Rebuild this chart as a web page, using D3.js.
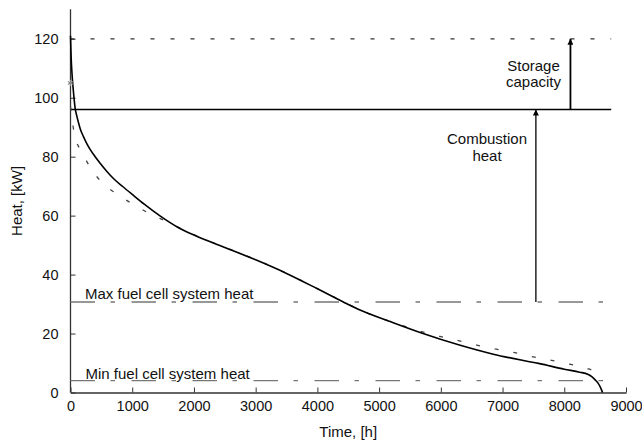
<!DOCTYPE html>
<html>
<head>
<meta charset="utf-8">
<script src="https://cdn.jsdelivr.net/npm/d3@7"></script>
<style>
  html, body { margin: 0; padding: 0; background: #fff; }
  svg { display: block; font-family: "Liberation Sans", Arial, Helvetica, sans-serif; }
</style>
</head>
<body>
<svg id="chart" width="642" height="444"></svg>
<script>
// Heat load duration curve (measured) and its fitted approximation
const demandHours = [0, 10, 25, 50, 75, 100, 130, 160, 210, 260, 320, 400, 480, 590, 700, 850, 1000,
  1200, 1450, 1750, 2000, 2500, 3000, 3500, 4000, 4420, 4700, 5200, 5700, 6300, 6850, 7300, 7600,
  8000, 8250, 8380, 8450, 8500, 8550, 8580, 8605, 8620];
const demandHeat = [121, 114, 108, 101.5, 96.5, 94, 91.5, 89.3, 86.8, 84.6, 82.4, 80, 77.8, 75.0, 72.5, 69.8, 67.2,
  63.8, 59.9, 55.9, 53.4, 49.2, 45.0, 40.4, 35.2, 30.7, 27.9, 23.9, 20.1, 16.1, 13.0, 11.0, 9.8,
  7.9, 6.9, 6.2, 5.3, 4.3, 3.1, 2.0, 0.8, 0];

const fitHours = [0, 19, 73, 181, 316, 505, 764, 1018, 1272, 1558, 2045, 2585, 3125, 3700, 4258, 4800, 5340,
  5700, 5986, 6284, 6581, 6878, 7177, 7475, 7771, 8068, 8366, 8480, 8560, 8615];
const fitHeat = [97, 93.6, 86.8, 81.7, 76.5, 71.3, 67.2, 63.8, 60.8, 58.0, 53.1, 48.6, 44, 38.4, 32.5, 27, 23,
  20.6, 19.0, 17.6, 16.1, 14.8, 13.6, 12.2, 11.0, 9.7, 8.2, 7.2, 5.6, 4.0];

// Peak marker on the heat axis
const peakHours = [0];
const peakHeat = [105];

// Reference levels, kW
const levelNames = ["storage", "combustion", "maxFc", "minFc"];
const levelValues = [120, 96, 30.7, 4];
const levelEndHours = 8760;

// Arrows: [hours, from kW, to kW]
const arrowNames = ["combustion", "storage"];
const arrowHours = [7540, 8100];
const arrowFrom = [30.7, 96];
const arrowTo = [96, 120];

const xTicks = [0, 1000, 2000, 3000, 4000, 5000, 6000, 7000, 8000, 9000];
const yTicks = [0, 20, 40, 60, 80, 100, 120];

const svg = d3.select("#chart");
svg.append("rect").attr("width", 642).attr("height", 444).attr("fill", "#fff");

const x = d3.scaleLinear().domain([0, 9000]).range([70.5, 626]);
const y = d3.scaleLinear().domain([0, 130]).range([392.5, 9.3]);

const axisColor = "#333";

// Axes with inward ticks
const gx = svg.append("g").attr("transform", `translate(0,${y(0)})`)
  .call(d3.axisBottom(x).tickValues(xTicks).tickFormat(d3.format("d"))
    .tickSizeInner(-5).tickSizeOuter(0).tickPadding(12));
const gy = svg.append("g").attr("transform", `translate(${x(0)},0)`)
  .call(d3.axisLeft(y).tickValues(yTicks).tickFormat(d3.format("d"))
    .tickSizeInner(-5).tickSizeOuter(0).tickPadding(12));
[gx, gy].forEach(g => {
  g.select(".domain").attr("stroke", axisColor).attr("stroke-width", 1.3);
  g.selectAll(".tick line").attr("stroke", axisColor).attr("stroke-width", 1);
  g.selectAll(".tick text").attr("fill", "#111").style("font-size", "14.5px")
    .style("font-family", "'Liberation Sans', Arial, sans-serif");
});
// Y axis line continues up to the top of the domain
gy.select(".domain").attr("d", `M0,${y(0)}V${y(130)}`);
gx.selectAll(".tick text").attr("dy", "0.71em").attr("y", 8);

// Axis titles
svg.append("text").attr("x", (x(0) + x(9000)) / 2).attr("y", 437)
  .attr("text-anchor", "middle").style("font-size", "15px").attr("fill", "#111").text("Time, [h]");
svg.append("text").attr("transform", `translate(22,${(y(0) + y(130)) / 2}) rotate(-90)`)
  .attr("text-anchor", "middle").style("font-size", "15px").attr("fill", "#111").text("Heat, [kW]");

// Reference levels
const levelStyle = {
  storage: { stroke: "#333", dash: "4,16", width: 1.2 },
  combustion: { stroke: "#000", dash: null, width: 1.3 },
  maxFc: { stroke: "#777", dash: "24.5,15.5,4.5,16.5", width: 1.3 },
  minFc: { stroke: "#777", dash: "24.5,15.5,4.5,16.5", width: 1.3 }
};
levelNames.forEach((name, i) => {
  const st = levelStyle[name];
  svg.append("line")
    .attr("x1", x(0)).attr("x2", x(levelEndHours))
    .attr("y1", y(levelValues[i])).attr("y2", y(levelValues[i]))
    .attr("stroke", st.stroke).attr("stroke-width", st.width)
    .attr("stroke-dasharray", st.dash);
});

// Level labels
svg.append("text").attr("x", 85).attr("y", y(levelValues[2]) - 3)
  .style("font-size", "15px").attr("fill", "#111").text("Max fuel cell system heat");
svg.append("text").attr("x", 85.5).attr("y", y(levelValues[3]) - 1.5)
  .style("font-size", "15px").attr("fill", "#111").text("Min fuel cell system heat");

// Fitted curve (dashed)
const line = d3.line().x(d => x(d[0])).y(d => y(d[1])).curve(d3.curveMonotoneX);
svg.append("path")
  .datum(fitHours.map((h, i) => [h, fitHeat[i]]))
  .attr("d", line).attr("fill", "none")
  .attr("stroke", "#444").attr("stroke-width", 1.3).attr("stroke-dasharray", "4,15");

// Measured duration curve
svg.append("path")
  .datum(demandHours.map((h, i) => [h, demandHeat[i]]))
  .attr("d", line).attr("fill", "none")
  .attr("stroke", "#000").attr("stroke-width", 1.6);

// Peak marker (asterisk)
svg.selectAll(".peak").data(peakHours.map((h, i) => [h, peakHeat[i]])).join("g")
  .attr("class", "peak")
  .attr("transform", d => `translate(${x(d[0])},${y(d[1])})`)
  .each(function () {
    const g = d3.select(this);
    [0, 60, 120].forEach(a => g.append("line")
      .attr("x1", 0).attr("y1", -3).attr("x2", 0).attr("y2", 3)
      .attr("transform", `rotate(${a})`)
      .attr("stroke", "#888").attr("stroke-width", 1));
  });

// Arrows
const defs = svg.append("defs");
defs.append("marker").attr("id", "head").attr("viewBox", "0 0 10 10")
  .attr("refX", 10).attr("refY", 5).attr("markerUnits", "userSpaceOnUse")
  .attr("markerWidth", 9).attr("markerHeight", 6).attr("orient", "auto")
  .append("path").attr("d", "M0,0L10,5L0,10Z").attr("fill", "#000");
arrowNames.forEach((name, i) => {
  svg.append("line")
    .attr("x1", x(arrowHours[i])).attr("x2", x(arrowHours[i]))
    .attr("y1", y(arrowFrom[i])).attr("y2", y(arrowTo[i]))
    .attr("stroke", "#000").attr("stroke-width", name === "storage" ? 1.8 : 1.3)
    .attr("marker-end", "url(#head)");
});

// Arrow labels
const noteStorage = svg.append("text").attr("text-anchor", "middle").style("font-size", "15px").attr("fill", "#111");
noteStorage.append("tspan").attr("x", 533.5).attr("y", 70.5).text("Storage");
noteStorage.append("tspan").attr("x", 533.5).attr("y", 87.3).text("capacity");
const noteComb = svg.append("text").attr("text-anchor", "middle").style("font-size", "15px").attr("fill", "#111");
noteComb.append("tspan").attr("x", 487).attr("y", 144).text("Combustion");
noteComb.append("tspan").attr("x", 487).attr("y", 160.7).text("heat");
</script>
</body>
</html>
